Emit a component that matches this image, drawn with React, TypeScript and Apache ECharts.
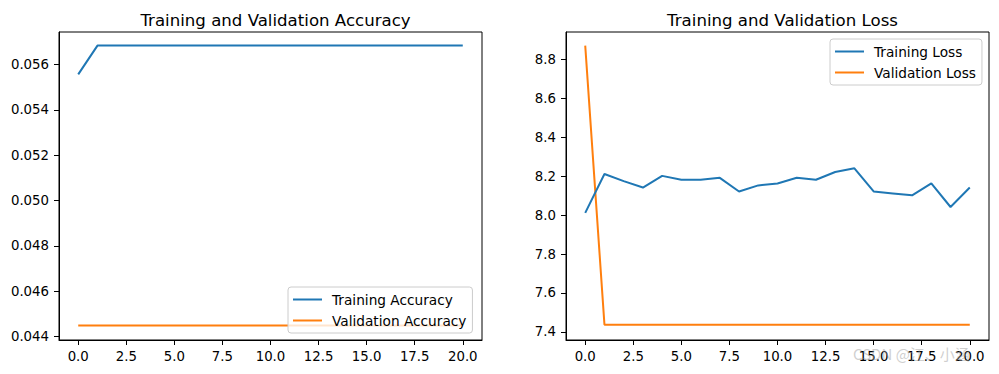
import React, { useEffect, useRef } from "react";
import * as echarts from "echarts";

const epochs = [0, 1, 2, 3, 4, 5, 6, 7, 8, 9, 10, 11, 12, 13, 14, 15, 16, 17, 18, 19, 20];
const trainAcc = [0.05557, 0.05684, 0.05684, 0.05684, 0.05684, 0.05684, 0.05684, 0.05684, 0.05684, 0.05684, 0.05684, 0.05684, 0.05684, 0.05684, 0.05684, 0.05684, 0.05684, 0.05684, 0.05684, 0.05684, 0.05684];
const valAcc = [0.04449, 0.04449, 0.04449, 0.04449, 0.04449, 0.04449, 0.04449, 0.04449, 0.04449, 0.04449, 0.04449, 0.04449, 0.04449, 0.04449, 0.04449, 0.04449, 0.04449, 0.04449, 0.04449, 0.04449, 0.04449];
const trainLoss = [8.012, 8.212, 8.175, 8.142, 8.202, 8.182, 8.182, 8.192, 8.122, 8.153, 8.163, 8.192, 8.182, 8.222, 8.241, 8.122, 8.112, 8.102, 8.163, 8.042, 8.142];
const valLoss = [8.872, 7.437, 7.437, 7.437, 7.437, 7.437, 7.437, 7.437, 7.437, 7.437, 7.437, 7.437, 7.437, 7.437, 7.437, 7.437, 7.437, 7.437, 7.437, 7.437, 7.437];
const xTicks = [0, 2.5, 5, 7.5, 10, 12.5, 15, 17.5, 20];
const accTicks = [0.044, 0.046, 0.048, 0.05, 0.052, 0.054, 0.056];
const lossTicks = [7.4, 7.6, 7.8, 8.0, 8.2, 8.4, 8.6, 8.8];

const FONT = "DejaVu Sans";
const BLUE = "#1f77b4";
const ORANGE = "#ff7f0e";

function pairs(ys: number[]) {
  return epochs.map((x, i) => [x, ys[i]]);
}

export default function App() {
  const ref = useRef<HTMLDivElement>(null);
  useEffect(() => {
    if (!ref.current) return;
    const chart = echarts.init(ref.current, undefined, { renderer: "svg" });
    const xAxisBase = (gridIndex: number) => ({
      type: "value",
      gridIndex,
      min: -1,
      max: 21,
      splitLine: { show: false },
      axisLine: { show: true, onZero: false, lineStyle: { color: "#000", width: 1 } },
      axisTick: { show: true, length: 5, customValues: xTicks, lineStyle: { color: "#000" } },
      axisLabel: {
        customValues: xTicks,
        formatter: (v: number) => v.toFixed(1),
        fontFamily: FONT,
        fontSize: 13.3,
        color: "#000",
        margin: 10,
      },
    });
    const yAxisBase = (gridIndex: number, min: number, max: number, ticks: number[], dec: number) => ({
      type: "value",
      gridIndex,
      min,
      max,
      splitLine: { show: false },
      axisLine: { show: true, onZero: false, lineStyle: { color: "#000", width: 1 } },
      axisTick: { show: true, length: 5, customValues: ticks, lineStyle: { color: "#000" } },
      axisLabel: {
        customValues: ticks,
        formatter: (v: number) => v.toFixed(dec),
        fontFamily: FONT,
        fontSize: 13.3,
        color: "#000",
        margin: 10,
      },
    });
    const legendBase = {
      orient: "vertical",
      icon: "rect",
      itemWidth: 29,
      itemHeight: 2,
      itemGap: 6,
      padding: [5, 6, 5, 5],
      backgroundColor: "rgba(255,255,255,0.8)",
      borderColor: "#cccccc",
      borderWidth: 1,
      borderRadius: 3,
      textStyle: { fontFamily: FONT, fontSize: 13.7, color: "#000", lineHeight: 15, padding: [0, 0, 0, 5] },
    };
    const lineSeries = (name: string, data: number[], color: string, idx: number) => ({
      type: "line",
      name,
      data: pairs(data),
      xAxisIndex: idx,
      yAxisIndex: idx,
      showSymbol: false,
      symbol: "none",
      lineStyle: { color, width: 2 },
      itemStyle: { color },
      z: color === BLUE ? 3 : 2,
    });
    chart.setOption({
      animation: false,
      backgroundColor: "#fff",
      title: [
        {
          text: "Training and Validation Accuracy",
          left: 270.5,
          top: 7,
          textAlign: "center",
          textStyle: { fontFamily: FONT, fontSize: 16.6, fontWeight: "normal", color: "#000" },
        },
        {
          text: "Training and Validation Loss",
          left: 777.5,
          top: 7,
          textAlign: "center",
          textStyle: { fontFamily: FONT, fontSize: 16.6, fontWeight: "normal", color: "#000" },
        },
      ],
      grid: [
        { left: 59, top: 32, width: 423, height: 308, show: true, borderColor: "#000", borderWidth: 1, backgroundColor: "transparent" },
        { left: 566, top: 32, width: 423, height: 308, show: true, borderColor: "#000", borderWidth: 1, backgroundColor: "transparent" },
      ],
      xAxis: [xAxisBase(0), xAxisBase(1)],
      yAxis: [
        yAxisBase(0, 0.04385, 0.05744, accTicks, 3),
        yAxisBase(1, 7.358, 8.942, lossTicks, 1),
      ],
      legend: [
        { ...legendBase, data: ["Training Accuracy", "Validation Accuracy"], left: 288, top: 287 },
        { ...legendBase, data: ["Training Loss", "Validation Loss"], left: 830, top: 39 },
      ],
      series: [
        lineSeries("Training Accuracy", trainAcc, BLUE, 0),
        lineSeries("Validation Accuracy", valAcc, ORANGE, 0),
        lineSeries("Training Loss", trainLoss, BLUE, 1),
        lineSeries("Validation Loss", valLoss, ORANGE, 1),
      ],
      graphic: [
        {
          type: "text",
          left: 853,
          top: 346,
          silent: true,
          z: 100,
          style: {
            text: "CSDN @江、小涵",
            fontFamily: "Noto Sans CJK SC",
            fontSize: 15,
            fill: "rgba(160,160,160,0.5)",
          },
        },
      ],
    });
    return () => chart.dispose();
  }, []);
  return (
    <div
      ref={ref}
      style={{ position: "fixed", left: 0, top: 0, width: 999, height: 374 }}
    />
  );
}
